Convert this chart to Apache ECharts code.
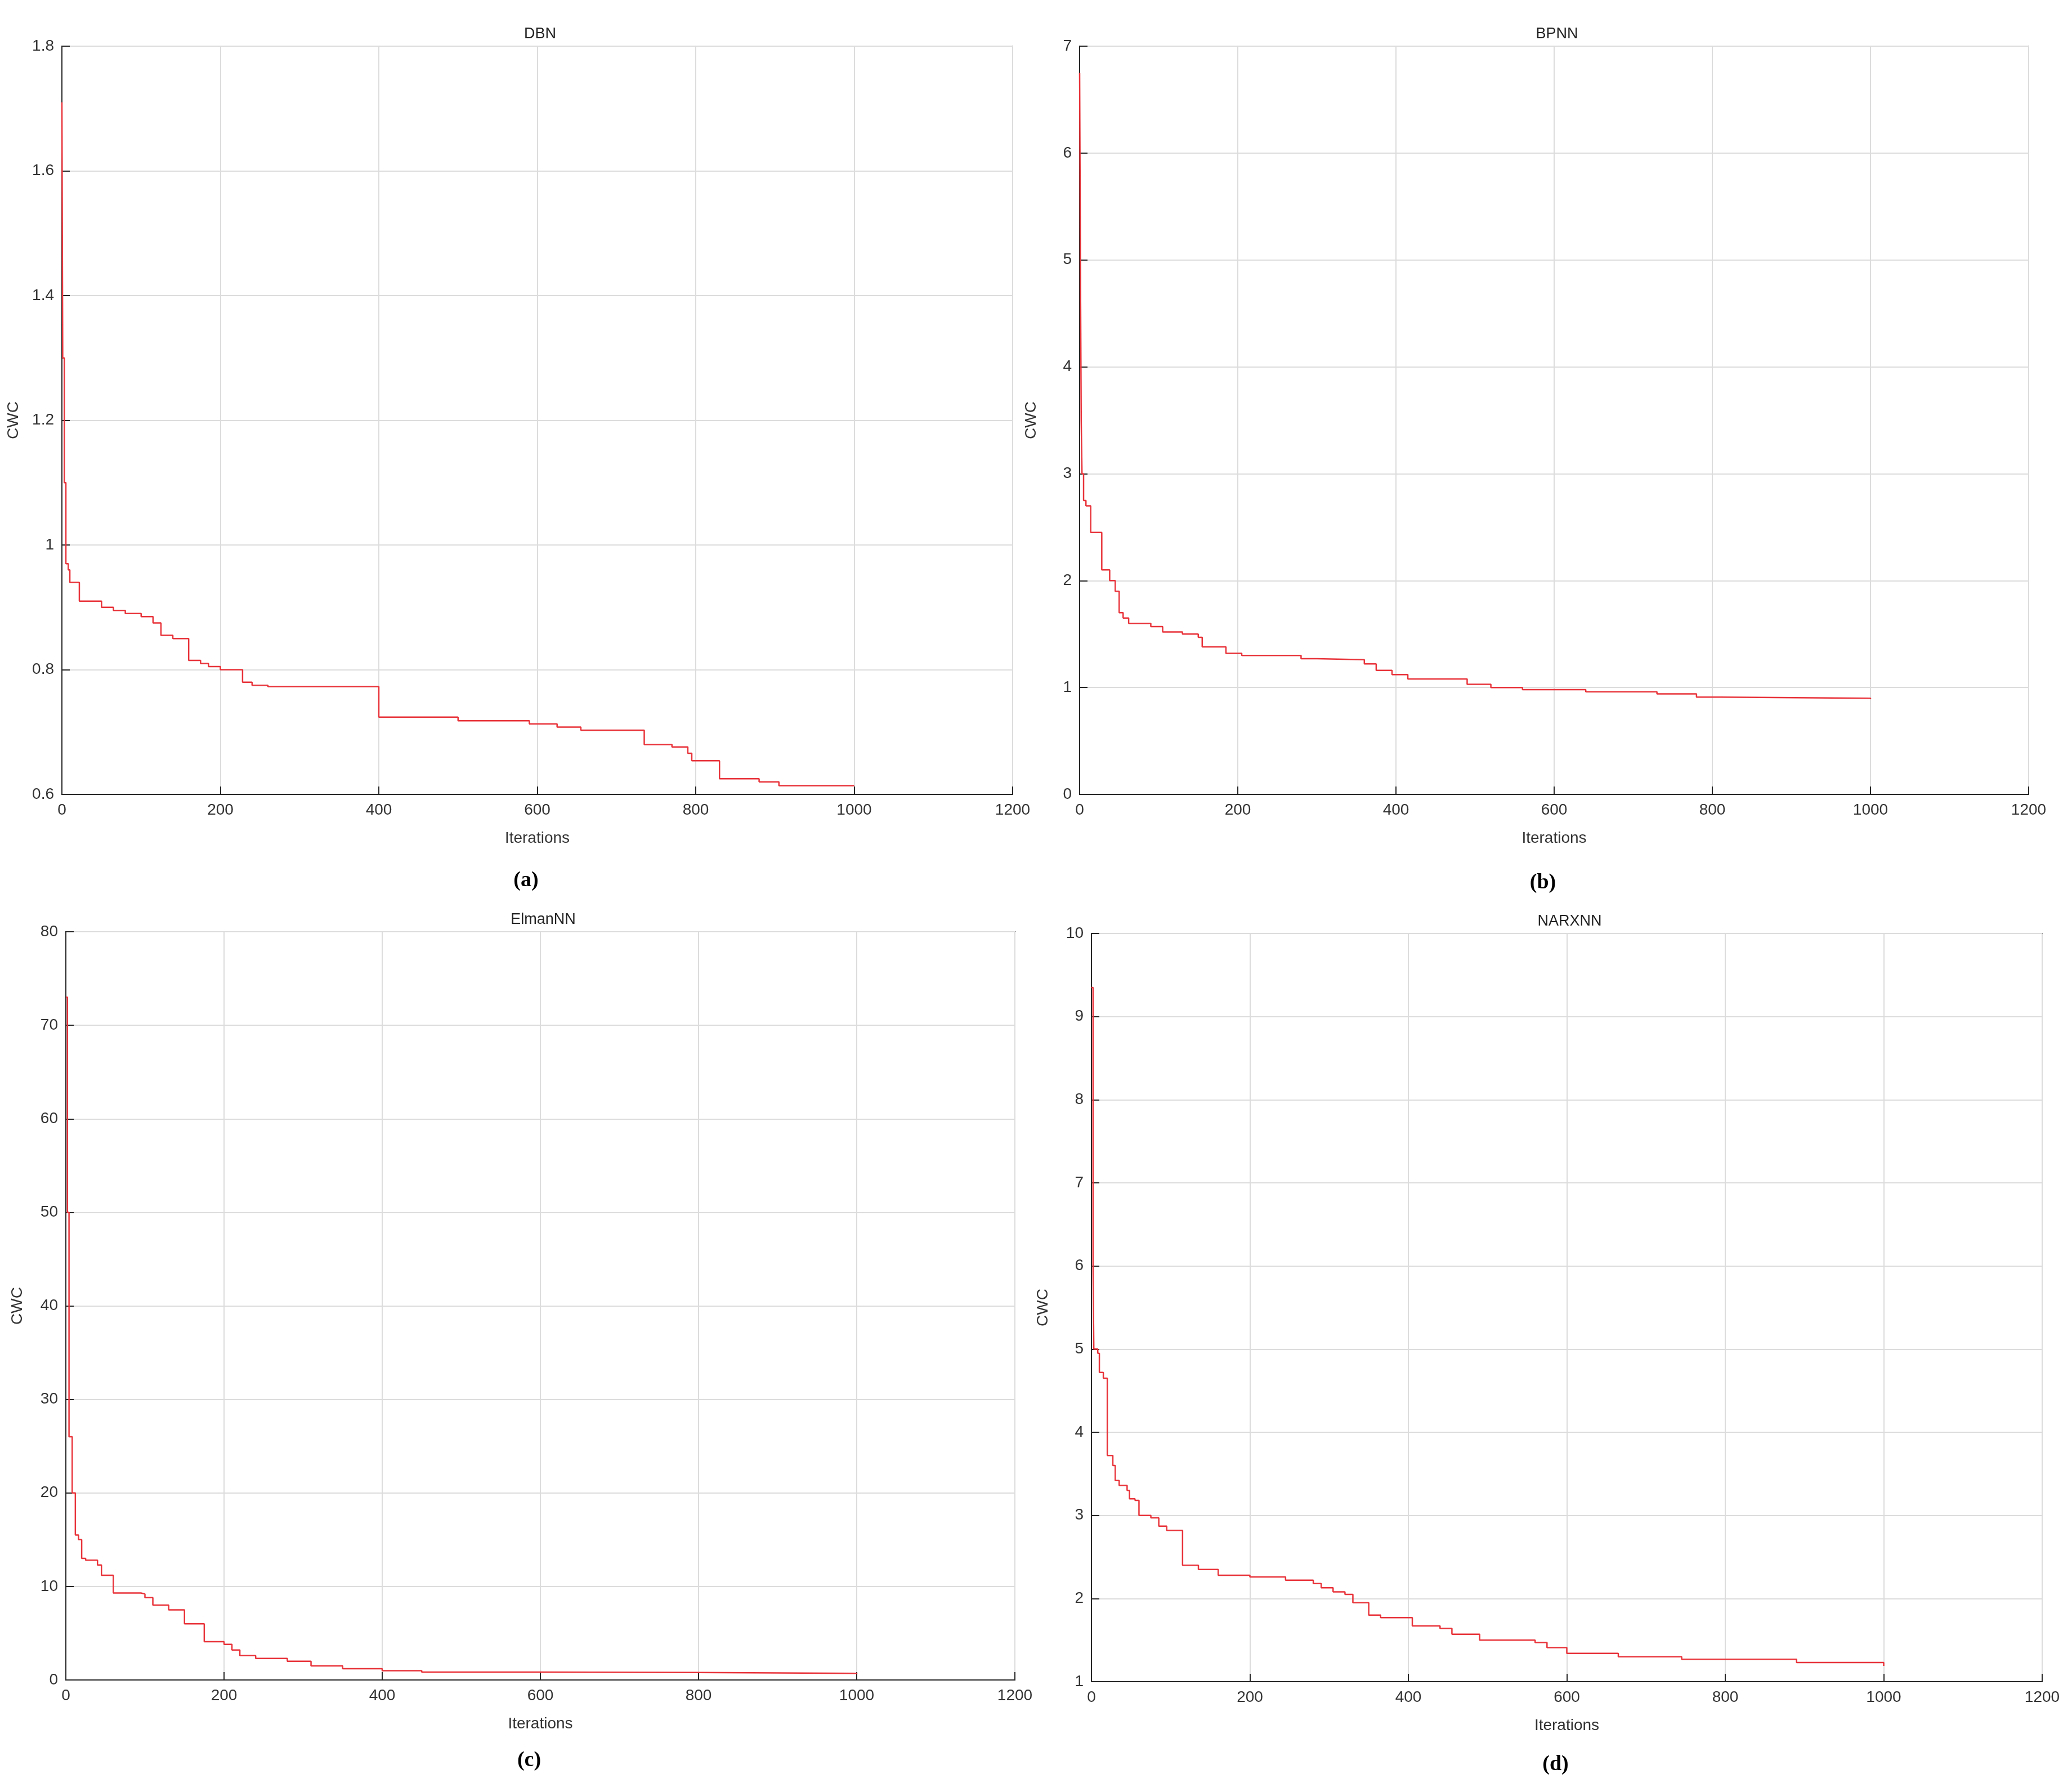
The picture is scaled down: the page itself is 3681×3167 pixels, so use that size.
<!DOCTYPE html>
<html>
<head>
<meta charset="utf-8">
<script src="https://cdn.jsdelivr.net/npm/echarts@6/dist/echarts.min.js"></script>
<style>html,body{margin:0;background:#fff}#chart{width:3681px;height:3167px}</style>
</head>
<body>
<div id="chart"></div>
<script>
// best-so-far CWC, breakpoints [iteration, value]
const dbn = [[0,1.71],[1,1.3],[3,1.1],[5,0.97],[8,0.96],[10,0.94],[22,0.91],[50,0.9],[65,0.895],[80,0.89],[100,0.885],[115,0.875],[125,0.855],[140,0.85],[160,0.815],[175,0.81],[185,0.805],[200,0.8],[228,0.78],[240,0.775],[260,0.773],[400,0.724],[500,0.718],[590,0.713],[625,0.708],[655,0.703],[735,0.68],[770,0.676],[790,0.666],[795,0.654],[830,0.625],[880,0.62],[905,0.614],[1000,0.614]];
const bpnn = [[0,6.75],[1,5],[2,3.5],[3,3.0],[5,2.75],[8,2.7],[14,2.45],[28,2.1],[38,2.0],[45,1.9],[50,1.7],[55,1.65],[62,1.6],[90,1.57],[105,1.52],[130,1.5],[150,1.47],[155,1.38],[185,1.32],[205,1.3],[280,1.27],[300,1.26],[360,1.22],[375,1.16],[395,1.12],[415,1.08],[490,1.03],[520,1.0],[560,0.98],[640,0.96],[730,0.94],[780,0.91],[810,0.9],[1000,0.89]];
const elman = [[0,73],[2,50],[4,26],[8,20],[12,15.5],[16,15],[20,13],[25,12.8],[40,12.3],[45,11.2],[60,9.3],[95,9.2],[100,8.8],[110,8.0],[130,7.5],[150,6.0],[175,4.1],[200,3.8],[210,3.2],[220,2.6],[240,2.3],[280,2.0],[310,1.5],[350,1.2],[400,1.0],[450,0.85],[600,0.8],[800,0.7],[1000,0.65]];
const narx = [[0,9.35],[2,6],[3,5],[8,4.95],[10,4.72],[15,4.65],[20,3.72],[27,3.6],[30,3.42],[35,3.36],[45,3.3],[48,3.2],[55,3.18],[60,3.0],[75,2.97],[85,2.87],[95,2.82],[115,2.4],[135,2.35],[160,2.28],[200,2.26],[245,2.22],[280,2.18],[290,2.13],[305,2.08],[320,2.05],[330,1.95],[350,1.8],[365,1.77],[405,1.67],[440,1.64],[455,1.57],[490,1.5],[560,1.47],[575,1.41],[600,1.34],[665,1.3],[745,1.27],[890,1.23],[1000,1.19]];

const names = ['DBN', 'BPNN', 'ElmanNN', 'NARXNN'];
const captions = ['(a)', '(b)', '(c)', '(d)'];
const yMin = [0.6, 0, 0, 1];
const yMax = [1.8, 7, 80, 10];
const yStep = [0.2, 1, 10, 1];
const series = [dbn, bpnn, elman, narx];

const grids = [
  {left: 110, top: 82, width: 1689, height: 1329},
  {left: 1918, top: 82, width: 1686, height: 1329},
  {left: 117, top: 1655, width: 1686, height: 1329},
  {left: 1939, top: 1658, width: 1689, height: 1329}
];
const capTop = [1540, 1544, 3103, 3110];
const font = 'Arial, "Liberation Sans", sans-serif';
const axisCol = '#262626';
const plain = function (v) { return String(+v.toFixed(1)); };

const chart = echarts.init(document.getElementById('chart'));
const title = [], xAxis = [], yAxis = [], ser = [];
grids.forEach(function (g, i) {
  title.push({text: names[i], left: g.left + g.width / 2, top: g.top - 40, textAlign: 'center',
    textStyle: {fontFamily: font, fontSize: 27, fontWeight: 'normal', color: '#222'}});
  title.push({text: captions[i], left: g.left + g.width / 2 - 25, top: capTop[i], textAlign: 'center',
    textStyle: {fontFamily: '"Liberation Serif", serif', fontSize: 38, fontWeight: 'bold', color: '#000'}});
  const axisBase = {
    gridIndex: i, type: 'value',
    axisLine: {show: true, onZero: false, lineStyle: {color: axisCol, width: 2}},
    axisTick: {show: true, inside: true, length: 14, lineStyle: {color: axisCol, width: 2}},
    splitLine: {show: true, lineStyle: {color: '#dcdcdc', width: 2}},
    axisLabel: {fontFamily: font, fontSize: 28, color: '#333', margin: 14, formatter: plain},
    nameTextStyle: {fontFamily: font, fontSize: 28, color: '#333'}
  };
  xAxis.push(Object.assign({}, axisBase, {min: 0, max: 1200, interval: 200,
    name: 'Iterations', nameLocation: 'middle', nameGap: 64}));
  yAxis.push(Object.assign({}, axisBase, {min: yMin[i], max: yMax[i], interval: yStep[i],
    name: 'CWC', nameLocation: 'middle', nameGap: 72}));
  ser.push({type: 'line', xAxisIndex: i, yAxisIndex: i, data: series[i], step: 'end',
    showSymbol: false, lineStyle: {color: '#e8333a', width: 2.5}});
});
chart.setOption({
  animation: false,
  backgroundColor: '#fff',
  title: title,
  grid: grids.map(function (g) { return Object.assign({show: true, borderColor: axisCol, borderWidth: 2, backgroundColor: '#fff'}, g); }),
  xAxis: xAxis,
  yAxis: yAxis,
  series: ser
});
window.addEventListener('resize', function () { chart.resize(); });
</script>
</body>
</html>
